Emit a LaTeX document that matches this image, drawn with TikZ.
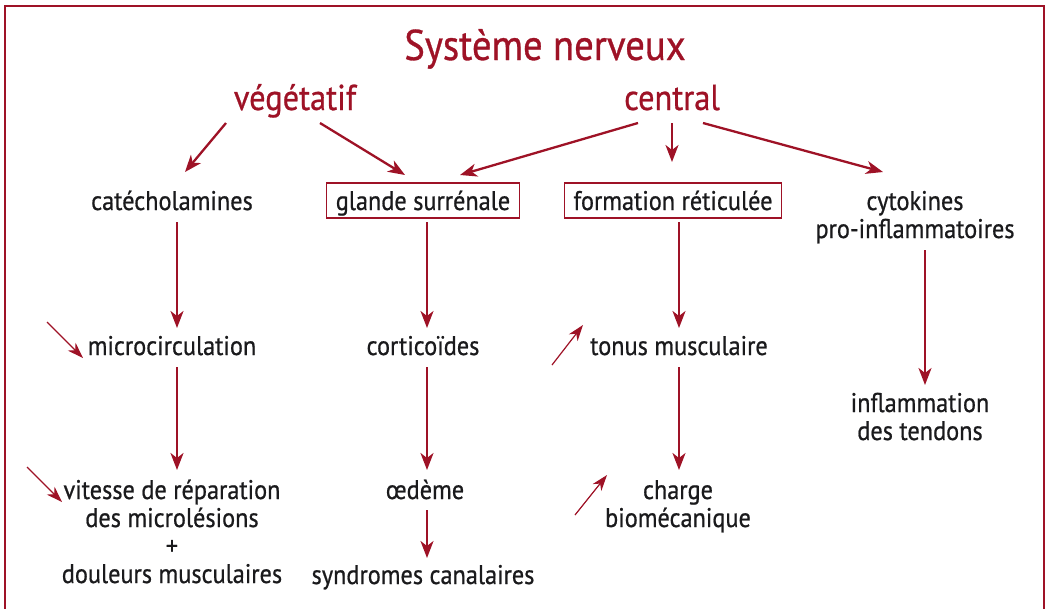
\documentclass[tikz,border=0pt]{standalone}
\usepackage{fontspec}
\setmainfont{PT Sans}[FakeBold=0.7,FakeStretch=0.9]
\usetikzlibrary{arrows.meta,calc}
\definecolor{dred}{HTML}{9E1226}
\definecolor{ink}{HTML}{1A1A1C}
\begin{document}
\begin{tikzpicture}[x=1pt,y=-1pt,
  txt/.style={inner sep=0pt,anchor=base,text=ink,font=\fontsize{27}{28}\selectfont,align=center},
  head/.style={inner sep=0pt,anchor=base,text=dred,font=\fontsize{36}{38}\selectfont},
  boxed/.style={txt,draw=dred,line width=1.3pt,inner xsep=9pt,inner ysep=0pt,text height=27pt,text depth=8pt,anchor=base},
  arr/.style={draw=dred,line width=2.3pt,-{Stealth[length=17pt,width=13pt,inset=5pt]}},
  trend/.style={draw=dred,line width=1.2pt,-{Stealth[length=16pt,width=11pt,inset=5pt]}}]
\useasboundingbox (0,0) rectangle (1049,608);
\draw[dred,line width=2.5pt] (5,620) -- (5,6) -- (1044,6) -- (1044,620);
\node[head,font=\fontsize{43}{46}\selectfont] (title) at (545,60) {Système nerveux};
\node[head] (veg) at (295,110) {végétatif};
\node[head] (cen) at (672,110) {central};
\node[txt] (cat) at (172,210) {catécholamines};
\node[boxed] (gla) at (423,210) {glande surrénale};
\node[boxed] (for) at (673,210) {formation réticulée};
\node[txt] (cyt) at (915,238) {cytokines\\pro-inflammatoires};
\node[txt] (mic) at (172,355) {microcirculation};
\node[txt] (cor) at (423,355) {corticoïdes};
\node[txt] (ton) at (679,355) {tonus musculaire};
\node[txt] (inf) at (920,440) {inflammation\\des tendons};
\node[txt] (vit) at (172,583) {vitesse de réparation\\des microlésions\\+\\douleurs musculaires};
\node[txt] (oed) at (425,499) {œdème};
\node[txt] (syn) at (423,584) {syndromes canalaires};
\node[txt] (cha) at (678,527) {charge\\biomécanique};
% main arrows
\draw[arr] ($(veg.base)+(-69,13)$) -- ($(cat.base)+(13,-38)$);
\draw[arr] ($(veg.base)+(25,13)$) -- ($(gla.base)+(-18,-35)$);
\draw[arr] ($(cen.base)+(-34,13)$) -- ($(gla.base)+(37,-35)$);
\draw[arr] ($(cen.base)+(0,13)$) -- ($(for.base)+(-1,-48)$);
\draw[arr] ($(cen.base)+(31,13)$) -- ($(cyt.base)+(-32,-66)$);
\draw[arr] ($(cat.base)+(5,12)$) -- ($(mic.base)+(5,-27)$);
\draw[arr] ($(mic.base)+(5,12)$) -- ($(vit.base)+(5,-113)$);
\draw[arr] ($(gla.base)+(4,12)$) -- ($(cor.base)+(4,-27)$);
\draw[arr] ($(cor.base)+(4,12)$) -- ($(oed.base)+(2,-29)$);
\draw[arr] ($(oed.base)+(2,11)$) -- ($(syn.base)+(4,-26)$);
\draw[arr] ($(for.base)+(6,12)$) -- ($(ton.base)+(0,-27)$);
\draw[arr] ($(ton.base)+(0,12)$) -- ($(cha.base)+(1,-57)$);
\draw[arr] ($(cyt.base)+(10,12)$) -- ($(inf.base)+(5,-55)$);
% trend arrows
\coordinate (t1) at (47,322);
\coordinate (t2) at (27,467);
\coordinate (t3) at (552,365);
\coordinate (t4) at (575,515);
\draw[trend] (t1) -- ($(mic.base)+(-89,3)$);
\draw[trend] (t2) -- ($(vit.base)+(-110,-81)$);
\draw[trend] (t3) -- ($(ton.base)+(-96,-30)$);
\draw[trend] (t4) -- ($(cha.base)+(-71,-52)$);
\end{tikzpicture}
\end{document}
